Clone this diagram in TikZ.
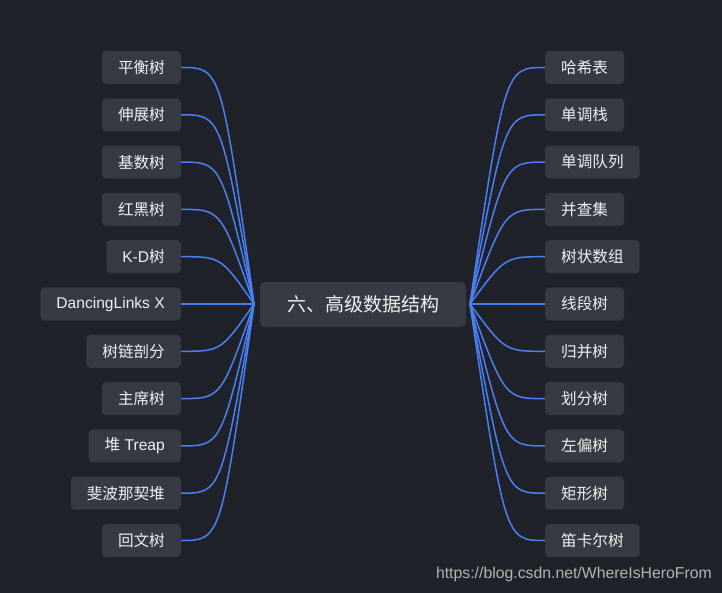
\documentclass[tikz,border=0pt]{standalone}
\usepackage{fontspec}
\setmainfont{Liberation Sans}
\newfontfamily\cjk{Noto Sans CJK SC}
\usetikzlibrary{calc}
\definecolor{bgc}{HTML}{202229}
\definecolor{nodec}{HTML}{373A42}
\definecolor{txtc}{HTML}{F0F0F0}
\definecolor{linec}{HTML}{4A80F5}
\definecolor{wmc}{HTML}{B4B4B4}
\tikzset{
  leaf/.style={fill=nodec, rounded corners=4pt, minimum height=33pt, inner xsep=16pt, inner ysep=0pt,
    text=txtc, font=\fontsize{15.6}{18}\selectfont},
  rootbox/.style={fill=nodec, rounded corners=5pt, minimum height=45pt, minimum width=206pt,
    text=txtc, font=\fontsize{19}{22}\selectfont},
  conn/.style={draw=linec, line width=1.5pt},
}
\begin{document}
\begin{tikzpicture}[x=1pt, y=-1pt]
\useasboundingbox[fill=bgc] (0,0) rectangle (722,593);
\node[rootbox] (root) at (363,304.5) {\cjk 六、高级数据结构};
\coordinate (lc) at (254,304);
\coordinate (rc) at (470,304);
\foreach \t [count=\i from 0] in {{\cjk 平衡树},{\cjk 伸展树},{\cjk 基数树},{\cjk 红黑树},{K-D{\cjk 树}},{DancingLinks X},{\cjk 树链剖分},{\cjk 主席树},{{\cjk 堆} Treap},{\cjk 斐波那契堆},{\cjk 回文树}} {
  \node[leaf, anchor=east] (l\i) at (181,{67.5+47.3*\i}) {\t};
  \draw[conn] (l\i.east) .. controls ($(l\i.east)+(40,0)$) .. (lc);
}
\foreach \t [count=\i from 0] in {{\cjk 哈希表},{\cjk 单调栈},{\cjk 单调队列},{\cjk 并查集},{\cjk 树状数组},{\cjk 线段树},{\cjk 归并树},{\cjk 划分树},{\cjk 左偏树},{\cjk 矩形树},{\cjk 笛卡尔树}} {
  \node[leaf, anchor=west] (r\i) at (545,{67.5+47.3*\i}) {\t};
  \draw[conn] (rc) .. controls ($(r\i.west)+(-40,0)$) .. (r\i.west);
}
\node[text=wmc, font=\fontsize{15.8}{18}\selectfont, anchor=east, inner sep=0pt] (wm) at (712,574) {https://blog.csdn.net/WhereIsHeroFrom};
\end{tikzpicture}
\end{document}
